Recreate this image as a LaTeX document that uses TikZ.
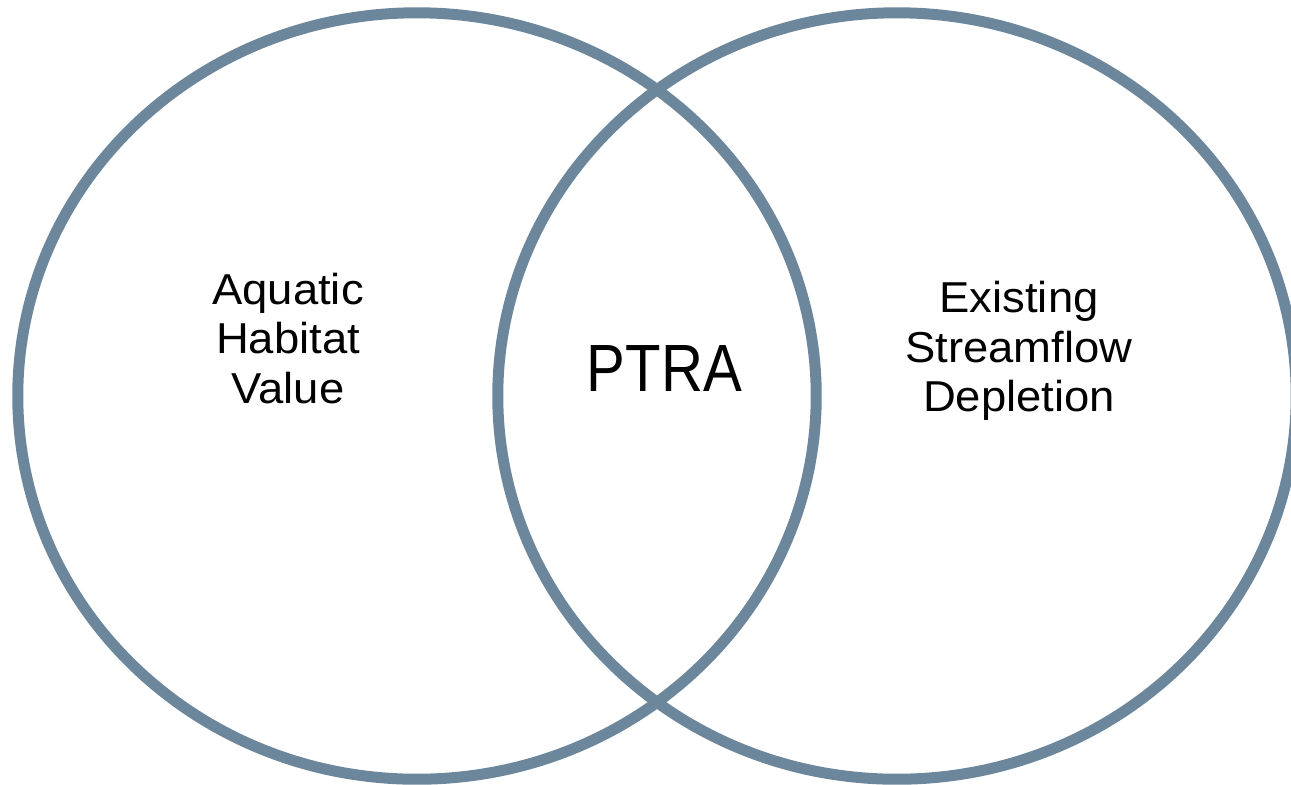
\documentclass[tikz,border=0pt]{standalone}
\usepackage{fontspec}
\setmainfont[FakeStretch=1.05]{Liberation Sans}
\newfontfamily\ptrafont[FakeStretch=0.87]{Liberation Sans}
\usetikzlibrary{shapes.geometric}
\definecolor{ringblue}{RGB}{108,134,155}

\begin{document}
\begin{tikzpicture}[x=0.01cm, y=-0.01cm,
    ring/.style={draw=ringblue, line width=0.11cm, ellipse, inner sep=0pt,
        minimum width=7.98cm, minimum height=7.66cm},
    lbl/.style={align=center, inner sep=0pt, font=\fontsize{12.3}{14}\selectfont}]

    \useasboundingbox (0,0) rectangle (1291,784);

    % circles
    \node [ring] (habitat) at (417,396) {};
    \node [ring] (depletion) at (897,396) {};

    % labels
    \node [lbl] (habitatlbl) at (288,338.5) {Aquatic\\Habitat\\Value};
    \node [lbl] (depletionlbl) at (1019,351) {Existing\\Streamflow\\Depletion};

    % overlap
    \node [inner sep=0pt, font=\ptrafont\fontsize{19}{22}\selectfont] (ptra) at (664.5,369) {PTRA};

\end{tikzpicture}
\end{document}
